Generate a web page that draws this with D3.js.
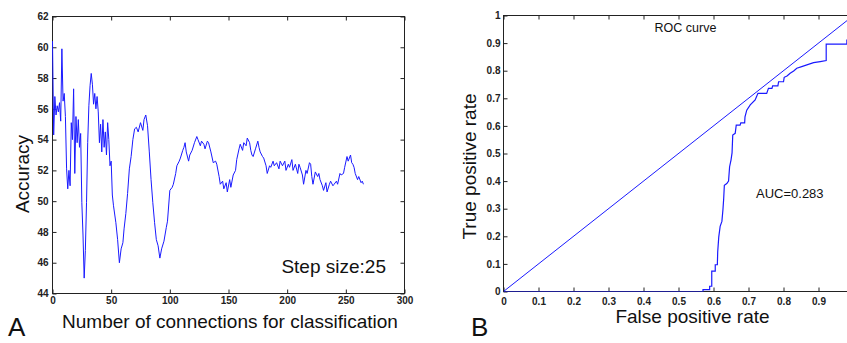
<!DOCTYPE html>
<html>
<head>
<meta charset="utf-8">
<script src="https://cdn.jsdelivr.net/npm/d3@7"></script>
<style>
  body { margin: 0; background: #fff; }
  svg { display: block; }
  .tick text { font-family: "Liberation Sans", Arial, sans-serif; font-size: 10px; font-weight: bold; fill: #222; }
  .lbl { font-family: "Liberation Sans", Arial, sans-serif; fill: #111; }
</style>
</head>
<body>
<div id="chart"></div>
<script>
// panel A: accuracy vs number of connections
var accX = [0,1,2,3,4,5,6,7,8,9,10,11,12,13,14,15,16,17,18,19,20,21,22,23,24,25,26,27,28,29,
  30,31,32,33,34,35,36,37,38,39,40,41,42,43,44,45,46,47,48,49,50,51,52,54,55.5,57,58.5,60,61,62.5,
  64,65.5,67,68.5,70,71.5,73,75,77,78,79.5,81,82.5,84,85.5,87,88.5,90,91.5,93,95,97,98,100,
  102,103,105,106,108,109,111,112,113,114,116,117,119,121,123,124,126,127,129,130,132,133,135,137,139,140,
  142,143,145,146,148,149,151,152,154,156,157,159,160,162,163,165,166,168,169,170,171,173,175,176,177,179,
  180,182,183,185,186,188,189,191,193,194,196,198,199,201,202,204,205,207,209,210,211,213,214,216,217,219,
  220,221,222,224,226,227,228,230,231,233,234,236,237,239,240,242,243,245,246,248,249,251,252,254,255,256,
  257,258,260,261,263,264,265];
var accY = [60.4,54.3,56.8,55.6,56.2,55.8,56.4,55.2,59.9,56.5,57.0,55.5,52.1,50.8,52.0,51.0,55.1,54.0,57.3,51.8,
  55.5,53.8,55.3,53.5,54.4,49.9,47.8,45.0,46.8,49.9,53.8,56.2,57.5,58.3,57.6,56.3,57.0,56.0,56.8,55.8,
  53.8,55.0,53.2,55.3,53.5,54.5,53.0,55.1,54.0,52.3,52.6,50.4,49.7,48.6,47.5,46.0,46.9,47.3,48.2,49.2,
  50.5,52.1,52.9,54.0,54.7,54.8,54.5,55.1,54.6,55.3,55.6,54.9,53.2,51.4,49.9,48.6,47.5,47.1,46.3,46.9,
  47.4,48.3,48.7,50.7,50.9,51.1,51.8,52.3,52.6,52.8,53.3,53.5,53.8,53.2,52.6,53.0,53.3,53.8,54.2,54.0,
  53.6,53.9,53.7,53.4,53.9,53.8,53.2,52.5,52.6,52.4,51.6,51.1,51.3,50.8,51.2,50.6,51.4,50.9,51.7,52.0,
  52.7,53.4,53.7,53.3,53.8,53.6,54.1,53.8,53.3,53.0,52.9,53.4,53.9,53.5,53.2,52.9,52.8,52.3,51.8,52.3,
  52.2,52.6,52.3,52.5,52.1,52.6,52.3,52.6,52.0,52.4,52.2,52.7,52.0,52.4,51.8,52.4,52.2,51.7,51.1,52.0,
  51.8,52.5,52.4,51.6,51.1,51.9,51.6,51.8,51.4,51.0,50.7,51.2,50.6,51.1,51.3,51.0,51.1,51.3,51.1,51.8,
  51.7,51.8,52.2,52.9,52.6,53.0,52.5,52.4,52.2,51.8,51.4,51.6,51.2,51.3,51.1];
var accXTicks = [0,50,100,150,200,250,300];
var accYTicks = [44,46,48,50,52,54,56,58,60,62];

// panel B: ROC curve
var rocFpr = [0,0.570,0.570,0.589,0.589,0.595,0.595,0.605,0.605,0.611,0.612,0.615,0.619,0.624,0.627,0.629,
  0.631,0.638,0.643,0.646,0.650,0.653,0.655,0.662,0.665,0.676,0.678,0.689,0.690,0.695,0.705,0.719,0.727,
  0.752,0.757,0.767,0.769,0.784,0.786,0.800,0.802,0.810,0.819,0.829,0.838,0.852,0.871,0.886,0.905,0.922,
  0.922,0.981,0.981,1.0];
var rocTpr = [0,0,0.007,0.007,0.019,0.019,0.074,0.074,0.097,0.097,0.143,0.197,0.236,0.254,0.297,0.334,
  0.385,0.391,0.400,0.452,0.476,0.502,0.567,0.573,0.603,0.603,0.611,0.611,0.633,0.657,0.676,0.694,0.718,
  0.718,0.736,0.736,0.745,0.745,0.760,0.760,0.776,0.781,0.791,0.799,0.809,0.815,0.823,0.829,0.833,0.837,
  0.896,0.896,0.911,0.93];
var chanceLine = [0, 1];
var rocXTicks = [0,0.1,0.2,0.3,0.4,0.5,0.6,0.7,0.8,0.9];
var rocYTicks = [0,0.1,0.2,0.3,0.4,0.5,0.6,0.7,0.8,0.9,1];

var W = 847, H = 343;
var svg = d3.select("#chart").append("svg").attr("width", W).attr("height", H);

function frameAxes(g, x, y, xTicks, yTicks, fmtX, fmtY, padX, padY) {
    var r = x.range(), t = y.range();
    g.append("g").attr("transform", "translate(0," + t[0] + ")")
        .call(d3.axisBottom(x).tickValues(xTicks).tickSize(-4).tickSizeOuter(0).tickPadding(padX).tickFormat(fmtX));
    g.append("g").attr("transform", "translate(0," + t[1] + ")")
        .call(d3.axisTop(x).tickValues(xTicks).tickSize(-4).tickSizeOuter(0).tickFormat(""));
    g.append("g").attr("transform", "translate(" + r[0] + ",0)")
        .call(d3.axisLeft(y).tickValues(yTicks).tickSize(-4).tickSizeOuter(0).tickPadding(padY).tickFormat(fmtY));
    g.append("g").attr("transform", "translate(" + r[1] + ",0)")
        .call(d3.axisRight(y).tickValues(yTicks).tickSize(-4).tickSizeOuter(0).tickFormat(""));
    g.selectAll(".domain").remove();
    g.selectAll(".tick line").attr("stroke", "#222");
    g.append("rect")
        .attr("x", r[0]).attr("y", t[1])
        .attr("width", r[1] - r[0]).attr("height", t[0] - t[1])
        .attr("fill", "none").attr("stroke", "#222").attr("stroke-width", 1);
}

// ---- panel A
var xA = d3.scaleLinear().domain([0, 300]).range([52.5, 404.5]);
var yA = d3.scaleLinear().domain([44, 62]).range([293.5, 16.5]);
var gA = svg.append("g");
frameAxes(gA, xA, yA, accXTicks, accYTicks, d3.format("d"), d3.format("d"), 3, 4);

var lineA = d3.line().x(function (d, i) { return xA(accX[i]); }).y(function (d) { return yA(d); });
gA.append("path").datum(accY)
    .attr("d", lineA)
    .attr("fill", "none").attr("stroke", "#1a1aff").attr("stroke-width", 1);

gA.append("text").attr("class", "lbl")
    .attr("x", 386).attr("y", 273).attr("text-anchor", "end")
    .attr("font-size", "19px").text("Step size:25");
gA.append("text").attr("class", "lbl")
    .attr("x", 230).attr("y", 328).attr("text-anchor", "middle")
    .attr("font-size", "19px").text("Number of connections for classification");
gA.append("text").attr("class", "lbl")
    .attr("transform", "translate(29,174) rotate(-90)").attr("text-anchor", "middle")
    .attr("font-size", "19px").text("Accuracy");
gA.append("text").attr("class", "lbl")
    .attr("x", 8).attr("y", 336)
    .attr("font-size", "26px").text("A");

// ---- panel B
var xB = d3.scaleLinear().domain([0, 1]).range([503.5, 853.5]);
var yB = d3.scaleLinear().domain([0, 1]).range([291.5, 15.5]);
var gB = svg.append("g");
frameAxes(gB, xB, yB, rocXTicks, rocYTicks, d3.format("~g"), d3.format("~g"), 6, 3);

gB.append("clipPath").attr("id", "clipB").append("rect")
    .attr("x", 503.5).attr("y", 15.5).attr("width", 350).attr("height", 276);

gB.append("path").datum(chanceLine)
    .attr("clip-path", "url(#clipB)")
    .attr("d", d3.line().x(function (d) { return xB(d); }).y(function (d) { return yB(d); }))
    .attr("fill", "none").attr("stroke", "#1a1aff").attr("stroke-width", 1);

gB.append("path").datum(rocTpr)
    .attr("clip-path", "url(#clipB)")
    .attr("d", d3.line().x(function (d, i) { return xB(rocFpr[i]); }).y(function (d) { return yB(d); }))
    .attr("fill", "none").attr("stroke", "#1a1aff").attr("stroke-width", 1.2);

gB.append("text").attr("class", "lbl")
    .attr("x", 685.5).attr("y", 32).attr("text-anchor", "middle")
    .attr("font-size", "12.5px").text("ROC curve");
gB.append("text").attr("class", "lbl")
    .attr("x", 756).attr("y", 198)
    .attr("font-size", "13px").text("AUC=0.283");
gB.append("text").attr("class", "lbl")
    .attr("x", 692.5).attr("y", 323).attr("text-anchor", "middle")
    .attr("font-size", "19px").text("False positive rate");
gB.append("text").attr("class", "lbl")
    .attr("transform", "translate(476,166.5) rotate(-90)").attr("text-anchor", "middle")
    .attr("font-size", "19px").text("True positive rate");
gB.append("text").attr("class", "lbl")
    .attr("x", 471).attr("y", 336)
    .attr("font-size", "26px").text("B");
</script>
</body>
</html>
